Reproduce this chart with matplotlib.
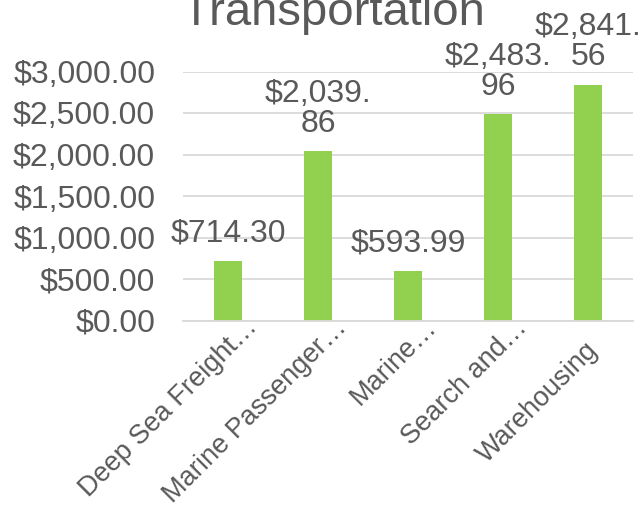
import matplotlib
matplotlib.use('Agg')
import matplotlib.pyplot as plt
import matplotlib.transforms as mtransforms
from matplotlib.ticker import FuncFormatter

# Datos del grafico
categories = ['Deep Sea Freight…', 'Marine Passenger…', 'Marine…', 'Search and…', 'Warehousing']
values = [714.30, 2039.86, 593.99, 2483.96, 2841.56]
value_labels = ['$714.30', '$2,039.\n86', '$593.99', '$2,483.\n96', '$2,841.\n56']
y_ticks = [0, 500, 1000, 1500, 2000, 2500, 3000]

plt.rcParams['font.family'] = ['Liberation Sans', 'DejaVu Sans']
text_color = '#595959'
grid_color = '#D9D9D9'
bar_color = '#92D050'

fig = plt.figure(figsize=(6.41, 5.08), dpi=100)
ax = fig.add_axes([183 / 641, 1 - 320.5 / 508, 450 / 641, 249 / 508])

x = list(range(len(categories)))
ax.bar(x, values, width=0.31, color=bar_color, zorder=3)

ax.set_xlim(-0.5, len(categories) - 0.5)
ax.set_ylim(0, 3000)
ax.set_yticks(y_ticks)
ax.yaxis.set_major_formatter(FuncFormatter(lambda v, p: '${:,.2f}'.format(v)))
ax.tick_params(axis='y', length=0, pad=20, labelsize=23, labelcolor=text_color)
ax.grid(axis='y', color=grid_color, linewidth=1.3, zorder=0)
for s in ['top', 'right', 'left']:
    ax.spines[s].set_visible(False)
ax.spines['bottom'].set_color(grid_color)
ax.spines['bottom'].set_linewidth(1.3)
ax.spines['bottom'].set_zorder(4)

# Etiquetas del eje x rotadas
ax.set_xticks(x)
ax.set_xticklabels(categories, rotation=45, ha='right', va='baseline',
                   rotation_mode='anchor', fontsize=19.5, color=text_color)
ax.tick_params(axis='x', length=0, pad=0)
for lbl in ax.get_xticklabels():
    # las etiquetas truncadas y la completa no quedan igual en el original
    if lbl.get_text().endswith('…'):
        dx, dy = 30, -8
    else:
        dx, dy = 11, -31
    offset = mtransforms.ScaledTranslation(dx / 100, dy / 100, fig.dpi_scale_trans)
    lbl.set_transform(lbl.get_transform() + offset)

# Etiquetas de datos
for i, v in enumerate(values):
    ax.annotate(value_labels[i], (i, v), xytext=(0, 9), textcoords='offset points',
                ha='center', va='bottom', fontsize=23, color=text_color,
                linespacing=1.0, annotation_clip=False)

fig.text(333 / 641, 1 - 25 / 508, 'Transportation', ha='center', va='baseline',
         fontsize=34, color=text_color)

plt.savefig('out.png', dpi=100)
